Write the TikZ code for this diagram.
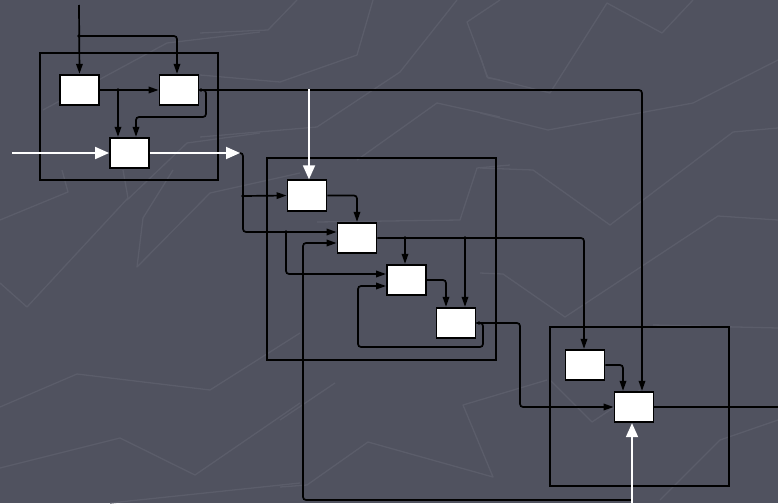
\documentclass[tikz,border=0pt]{standalone}
\usetikzlibrary{arrows.meta}
\definecolor{bgslate}{HTML}{50525F}
\definecolor{bgline}{HTML}{5B5D6A}
\begin{document}
\begin{tikzpicture}[x=1pt,y=-1pt,
  blk/.style={draw=black,fill=white,line width=1.8pt,minimum width=39pt,minimum height=30.5pt,inner sep=0pt},
  frame/.style={draw=black,line width=1.8pt},
  wire/.style={draw=black,line width=1.7pt,rounded corners=3pt},
  sig/.style={wire,-{Triangle[length=10pt,width=6.5pt]}},
  winput/.style={draw=white,line width=1.8pt,-{Triangle[length=14pt,width=12pt]}},
  deco/.style={draw=bgline,line width=1.3pt,line join=round}]

% canvas
\useasboundingbox (0,0) rectangle (778,503);
\clip (0,0) rectangle (778,503);
\fill[bgslate] (0,0) rectangle (778,503);

% faint zigzag texture
\draw[deco] (480,55) -- (487,77) -- (550,93) -- (607,3) -- (662,33) -- (693,0);
\draw[deco] (480,113) -- (548,130) -- (693,103) -- (778,60);
\draw[deco] (480,168) -- (533,170) -- (610,225) -- (733,132) -- (778,128);
\draw[deco] (480,273) -- (503,274) -- (565,317) -- (718,216) -- (778,220);
\draw[deco] (653,325) -- (778,328);
\draw[deco] (0,220) -- (68,192) -- (62,170);
\draw[deco] (0,283) -- (27,307) -- (128,198) -- (123,170);
\draw[deco] (173,170) -- (143,218) -- (137,267) -- (210,193) -- (300,173);
\draw[deco] (0,407) -- (77,374) -- (210,390) -- (300,333);
\draw[deco] (0,468) -- (120,438) -- (195,475) -- (300,403);
\draw[deco] (110,503) -- (300,483);
\draw[deco] (200,33) -- (268,30) -- (297,0);
\draw[deco] (200,75) -- (280,82) -- (357,55) -- (373,0);
\draw[deco] (200,137) -- (317,127) -- (400,72) -- (457,0);
\draw[deco] (500,0) -- (467,22) -- (488,78) -- (500,80);
\draw[deco] (357,160) -- (437,103) -- (500,117);
\draw[deco] (43,110) -- (167,43) -- (260,32);
\draw[deco] (127,200) -- (187,143) -- (260,133);
\draw[deco] (280,487) -- (307,485) -- (368,442) -- (493,477) -- (463,405) -- (547,380);
\draw[deco] (280,420) -- (335,383);
\draw[deco] (550,380) -- (592,422) -- (640,390);
\draw[deco] (317,222) -- (460,220) -- (477,168) -- (510,165);
\draw[deco] (660,500) -- (720,440) -- (778,420);

% group frames
\draw[frame] (40,53) rectangle (218,180);
\draw[frame] (267,158) rectangle (496,360);
\draw[frame] (550,327) rectangle (729,486);

% blocks
\node[blk] (A) at (79.5,90) {};
\node[blk] (B) at (179,90) {};
\node[blk] (C) at (129.5,153) {};
\node[blk] (D) at (307,195.5) {};
\node[blk] (E) at (357,238) {};
\node[blk] (F) at (406.5,280) {};
\node[blk] (G) at (456,323) {};
\node[blk] (H) at (585,365) {};
\node[blk] (I) at (634,407) {};

% free ends and taps
\coordinate (in1) at (79,5);
\coordinate (t1) at (79,36);
\coordinate (t2) at (118,90);
\coordinate (t3) at (201,90);
\coordinate (win1) at (12,153);
\coordinate (wout1) at (240,153);
\coordinate (t4) at (243,196);
\coordinate (t5) at (286,232);
\coordinate (win2) at (309,89);
\coordinate (t6) at (405,238);
\coordinate (t7) at (465,238);
\coordinate (t8) at (479,323);
\coordinate (fb) at (632,500);
\coordinate (win3) at (632,503);
\coordinate (out) at (778,407);

% first group
\draw[sig] (in1) -- (A.north);
\draw[sig] (t1) -- (177,36) -- (177,0 |- B.north);
\draw[sig] (A.east) -- (B.west);
\draw[sig] (t2) -- (118,0 |- C.north);
\draw[sig] (t3) -- (206,90) -- (206,117) -- (136,117) -- (136,0 |- C.north);
\draw[sig] (B.east) -- (642,90) -- (642,0 |- I.north);

% second group
\draw[sig] (wout1) -- (243,153) -- (243,232) -- (E.west |- 0,232);
\draw[sig] (t4) -- (D.west);
\draw[sig] (t5) -- (286,274) -- (F.west |- 0,274);
\draw[sig] (D.east) -- (357,195.5) -- (357,0 |- E.north);
\draw[sig] (fb) -- (303,500) -- (303,243) -- (E.west |- 0,243);
\draw[sig] (E.east) -- (584,238) -- (584,0 |- H.north);
\draw[sig] (t6) -- (405,0 |- F.north);
\draw[sig] (t7) -- (465,0 |- G.north);
\draw[sig] (F.east) -- (446,280) -- (446,0 |- G.north);
\draw[sig] (t8) -- (483,323) -- (483,347) -- (358,347) -- (358,286) -- (F.west |- 0,286);

% third group
\draw[sig] (G.east) -- (520,323) -- (520,407) -- (I.west);
\draw[sig] (H.east) -- (623,365) -- (623,0 |- I.north);
\draw[wire] (I.east) -- (out);

% junction dots
\foreach \t in {t1,t2,t3,t4,t5,t6,t7,t8}
  \fill (\t) circle (1.8pt);

% external inputs
\draw[winput] (win1) -- (C.west);
\draw[winput] (C.east) -- (wout1);
\draw[winput] (win2) -- (309,0 |- D.north);
\draw[winput] (win3) -- (632,0 |- I.south);
\end{tikzpicture}
\end{document}
